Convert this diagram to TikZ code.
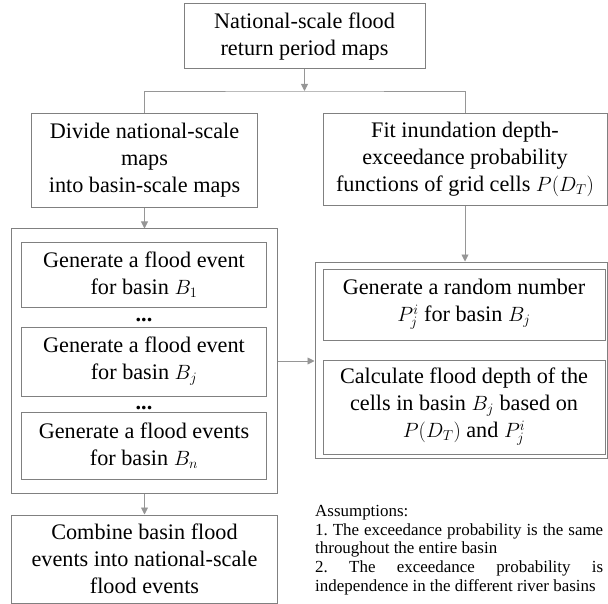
\documentclass[tikz,border=0pt]{standalone}
\usepackage{fontspec}
\setmainfont{Liberation Serif}
\usetikzlibrary{arrows.meta}
\definecolor{linegray}{RGB}{128,128,128}
\definecolor{arrowgray}{RGB}{150,150,150}
\newcommand\boxfont{\fontsize{22.3}{27}\selectfont}
\newcommand\notefont{\fontsize{17}{18.8}\selectfont}
\frenchspacing
\tikzset{
  flowbox/.style={draw=linegray, line width=1bp, align=center, inner sep=0pt, font=\boxfont},
  groupbox/.style={draw=linegray, line width=1bp, inner sep=0pt},
  flowline/.style={draw=arrowgray, line width=0.9bp},
  flowarrow/.style={flowline, -{Triangle[length=7bp,width=7bp]}},
}
\begin{document}
\begin{tikzpicture}[x=1bp,y=-1bp]
\useasboundingbox (0,0) rectangle (608,604);
%% outer frames of the two basin loops
\node[groupbox, minimum width=265bp, minimum height=264bp] (groupL) at (144.5,361) {};
\node[groupbox, minimum width=292bp, minimum height=196bp] (groupR) at (461,360) {};
%% boxes
\foreach \nodename/\x/\y/\w/\h/\nodetext in {
  top/304.5/36.5/241/65/{National-scale flood\\return period maps},
  divide/144.5/160.5/225/93/{Divide national-scale\\maps\\into basin-scale maps},
  fit/465/159.5/284/91/{Fit inundation depth-\\exceedance probability\\functions of grid cells $P(D_T)$},
  b1/144/274.5/244/65/{Generate a flood event\\for basin $B_1$},
  bj/144/361.5/244/69/{Generate a flood event\\for basin $B_j$},
  bn/144/445.5/244/67/{Generate a flood events\\for basin $B_n$},
  random/464/304.5/282/71/{Generate a random number\\$P_j^i$ for basin $B_j$},
  calc/464/407/282/94/{Calculate flood depth of the\\cells in basin $B_j$ based on\\$P(D_T)$ and $P_j^i$},
  combine/144.5/559/265/88/{Combine basin flood\\events into national-scale\\flood events}}
{
  \node[flowbox, minimum width=\w bp, minimum height=\h bp] (\nodename) at (\x,\y) {\nodetext};
}
\foreach \nodename/\y in {dotsa/321, dotsb/409}
{
  \node[font=\boxfont, anchor=base, inner sep=0pt] (\nodename) at (144,\y) {\textbf{...}};
}
%% note
\node[font=\notefont, align=left, anchor=north west, inner sep=0pt] (assume) at (315,505)
  {Assumptions:\\
   \makebox[288bp][s]{1. The exceedance probability is the same}\\
   throughout the entire basin\\
   \makebox[288bp][s]{2. The exceedance probability is}\\
   independence in the different river basins};
%% connectors
\coordinate (split) at (304.5,91);
\draw[flowarrow] (top.south) -- (split);
\draw[flowline] (divide.north) |- (split) -| (fit.north);
\draw[flowarrow] (divide.south) -- (groupL.north);
\draw[flowarrow] (fit.south) -- (fit.south |- groupR.north);
\draw[flowarrow] (groupL.east) -- (groupL.east -| groupR.west);
\draw[flowarrow] (groupL.south) -- (combine.north);
\end{tikzpicture}
\end{document}
